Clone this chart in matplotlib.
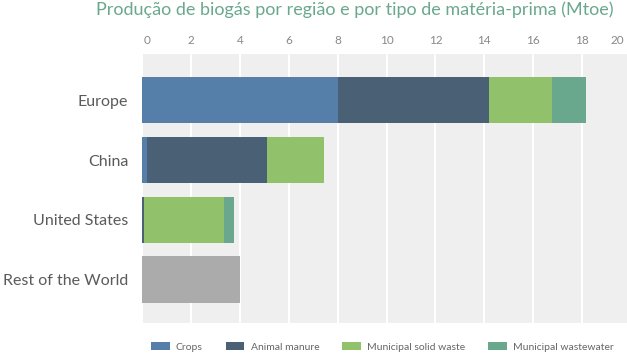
import matplotlib.pyplot as plt
import numpy as np

plt.rcParams['font.family'] = ['Lato', 'DejaVu Sans']

# data (Mtoe)
regions = ['Europe', 'China', 'United States', 'Rest of the World']
crops = [8.0, 0.2, 0.0, 0.0]
manure = [6.2, 4.9, 0.1, 0.0]
msw = [2.55, 2.35, 3.25, 0.0]
wastewater = [1.4, 0.0, 0.42, 0.0]
other = [0.0, 0.0, 0.0, 4.0]
xticks = list(range(0, 21, 2))

series = [('Crops', crops, '#557ea9'),
          ('Animal manure', manure, '#4a6075'),
          ('Municipal solid waste', msw, '#91c16a'),
          ('Municipal wastewater', wastewater, '#6aa88e')]

fig = plt.figure(figsize=(6.27, 3.54), dpi=100)
ax = fig.add_axes([0.2265, 0.0876, 0.78, 0.76])
ax.set_facecolor('#f0efef')

y = np.arange(len(regions))
left = np.zeros(len(regions))
for name, vals, col in series:
    ax.barh(y, vals, left=left, height=0.78, color=col, label=name, zorder=3)
    left += np.array(vals)
ax.barh(y, other, left=left, height=0.78, color='#ababab', zorder=3)

ax.set_xlim(0, 20)
ax.set_ylim(3.72, -0.77)
# first and last labels are drawn separately so they stay inside the figure
ax.set_xticks(xticks, labels=[''] + [str(v) for v in xticks[1:-1]] + [''])
ax.set_yticks(y)
ax.set_yticklabels(regions, fontsize=11.5, color='#5a5a5a')
ax.xaxis.tick_top()
ax.tick_params(axis='x', length=0, labelsize=8.5, labelcolor='#888888', pad=6)
ax.tick_params(axis='y', length=0, pad=10)
ax.grid(axis='x', color='white', linewidth=1.5, zorder=1)
for s in ax.spines.values():
    s.set_visible(False)
for v, ha, dx in [(xticks[0], 'left', 1), (xticks[-1], 'right', -5)]:
    ax.annotate(str(v), xy=(v, 1), xycoords=('data', 'axes fraction'),
                xytext=(dx, 6), textcoords='offset points', ha=ha, va='bottom',
                fontsize=8.5, color='#888888')

fig.suptitle('Produção de biogás por região e por tipo de matéria-prima (Mtoe)',
             x=0.565, y=0.995, fontsize=13, color='#6aa88e', va='top')

fig.legend(loc='center', bbox_to_anchor=(0.61, 0.02), ncol=4, frameon=False,
           fontsize=7.5, labelcolor='#666666', handlelength=1.8, handleheight=0.8,
           columnspacing=2.2, handletextpad=0.6)

fig.savefig('out.png', dpi=100)
